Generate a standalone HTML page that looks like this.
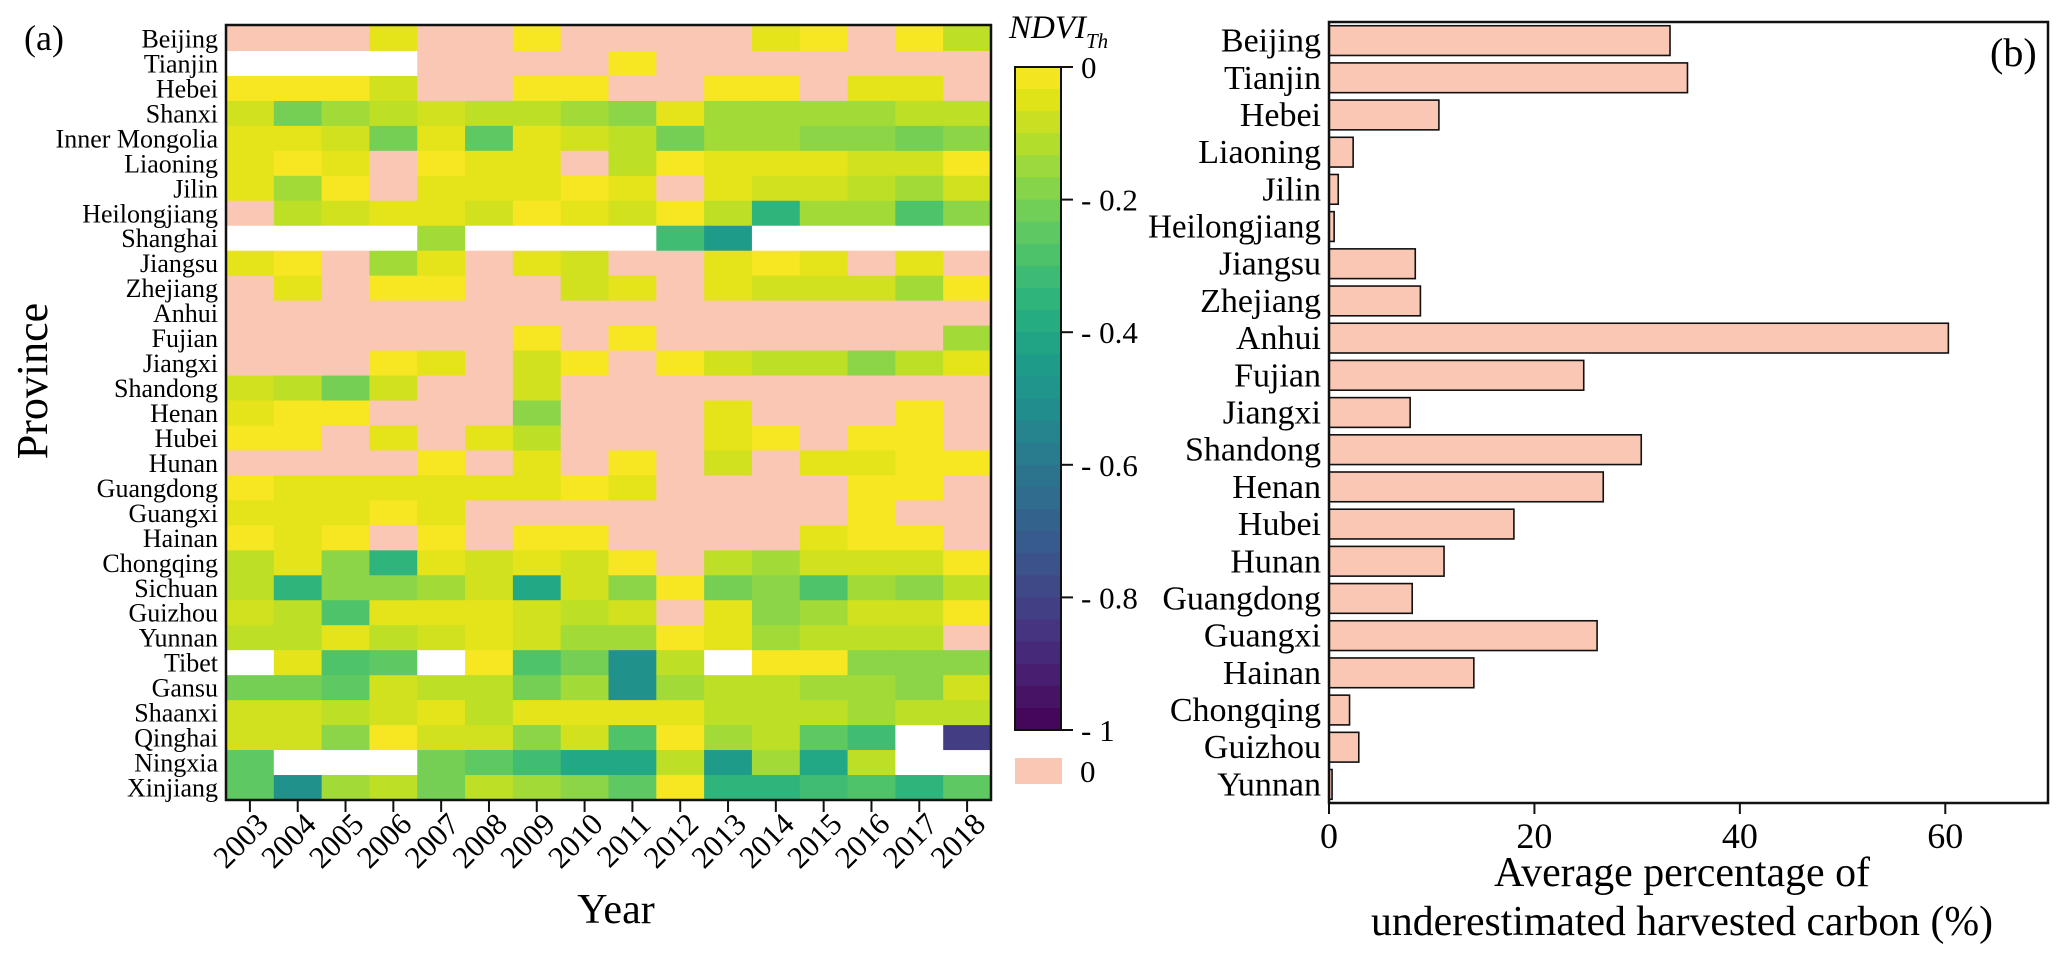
<!DOCTYPE html>
<html><head><meta charset="utf-8">
<style>
html,body{margin:0;padding:0;background:#fff;}
svg{display:block;font-family:"Liberation Serif",serif;}
</style></head>
<body>
<svg id="fig" width="2067" height="963" viewBox="0 0 2067 963" xmlns="http://www.w3.org/2000/svg">
  <rect width="2067" height="963" fill="#fff"/>
  <g id="heat"></g>
  <g id="cbar"></g>
  <g id="bars"></g>
</svg>
<script>
// ---------- heatmap data ----------
const provinces = ["Beijing","Tianjin","Hebei","Shanxi","Inner Mongolia","Liaoning","Jilin","Heilongjiang","Shanghai","Jiangsu","Zhejiang","Anhui","Fujian","Jiangxi","Shandong","Henan","Hubei","Hunan","Guangdong","Guangxi","Hainan","Chongqing","Sichuan","Guizhou","Yunnan","Tibet","Gansu","Shaanxi","Qinghai","Ningxia","Xinjiang"];
const years = ["2003","2004","2005","2006","2007","2008","2009","2010","2011","2012","2013","2014","2015","2016","2017","2018"];
// value codes (P = 0, W = no data)
const codeValues = {P:0,Y:-0.01,y:-0.04,l:-0.07,L:-0.1,g:-0.14,G:-0.175,m:-0.21,M:-0.25,n:-0.28,t:-0.31,T:-0.35,s:-0.4,S:-0.45,c:-0.5,v:-0.82,W:null};
const ndviRows = [
"PPPyPPYPPPPyYPYL",
"WWWWPPPPYPPPPPPP",
"YYYlPPYYPPYYPyyP",
"lmgLlLLgGyggggLL",
"yylmyMylLmggGGmG",
"yYyPYyyPLYyyyllY",
"ygYPyyyYyPyllLgl",
"PLlyylYylYLTggnG",
"WWWWgWWWWtSWWWWW",
"yYPgyPylPPyYyPyP",
"PyPYYPPlyPylllgY",
"PPPPPPPPPPPPPPPP",
"PPPPPPYPYPPPPPPg",
"PPPYyPlYPYlLLGLy",
"lLmlPPlPPPPPPPPP",
"yYYPPPGPPPyPPPYP",
"YYPyPyLPPPyYPYYP",
"PPPPYPyPYPlPyyYY",
"YyyyyyyYyPPPPYYP",
"yyyYyPPPPPPPPYPP",
"YyYPYPYYPPPPyYYP",
"LyGTylylYPLglllY",
"LTGGglslGYmGngGL",
"lLnyyylLlPyGgllY",
"LLyLlylggYygLLLP",
"WynMWYnmcLWYYGGG",
"mmMlLLmgcgLLggGl",
"llLlyLyyyyLLLgLL",
"llGYllGlnYgLMtWv",
"MWWWmMtssLSgsLWW",
"McgLmLgGMYTTtnTM"
];
// ---------- bar chart data ----------
const barProvinces = ["Beijing","Tianjin","Hebei","Liaoning","Jilin","Heilongjiang","Jiangsu","Zhejiang","Anhui","Fujian","Jiangxi","Shandong","Henan","Hubei","Hunan","Guangdong","Guangxi","Hainan","Chongqing","Guizhou","Yunnan"];
const barValues = [33.2,34.9,10.7,2.35,0.9,0.5,8.4,8.9,60.3,24.8,7.9,30.4,26.7,18.0,11.2,8.1,26.1,14.1,2.0,2.9,0.3];
const xTicks = [0,20,40,60];
const cbarTicks = [0,-0.2,-0.4,-0.6,-0.8,-1];
const cbarTickLabels = ["0","- 0.2","- 0.4","- 0.6","- 0.8","- 1"];

const NS="http://www.w3.org/2000/svg";
function mk(tag, attrs, parent){const e=document.createElementNS(NS,tag);for(const k in attrs)e.setAttribute(k,attrs[k]);parent.appendChild(e);return e;}
const VIR=["#440154","#471365","#482475","#463480","#414487","#3b528b","#355f8d","#2f6c8e","#2a788e","#25848e","#21918c","#1e9c89","#22a884","#2fb47c","#44bf70","#5ec962","#7ad151","#9bd93c","#bddf26","#dfe318","#fde725"];
function hx(c){return [parseInt(c.substr(1,2),16),parseInt(c.substr(3,2),16),parseInt(c.substr(5,2),16)];}
function viridis(t){t=Math.max(0,Math.min(1,t));const f=t*20,i=Math.min(19,Math.floor(f)),r=f-i;const a=hx(VIR[i]),b=hx(VIR[i+1]);return "rgb("+a.map((v,k)=>Math.round(v+(b[k]-v)*r)).join(",")+")";}
const PINK="#f9c7b3";
function cellColor(v){if(v===null)return "#ffffff";if(v===0)return PINK;return viridis(1+v);}

// ---------- heatmap ----------
const H=document.getElementById('heat');
const hx0=226,hy0=26,hx1=991,hy1=800;
const cw=(hx1-hx0)/years.length,ch=(hy1-hy0)/provinces.length;
const colX=i=>hx0+i*cw, rowY=j=>hy0+j*ch;
for(let j=0;j<provinces.length;j++){
  for(let i=0;i<years.length;i++){
    const v=codeValues[ndviRows[j][i]];
    const r=mk('rect',{x:colX(i).toFixed(2),y:rowY(j).toFixed(2),width:(cw+0.6).toFixed(2),height:(ch+0.6).toFixed(2),fill:cellColor(v)},H);
    
    
  }
  const t=mk('text',{x:218,y:(rowY(j)+ch/2+9).toFixed(1),'text-anchor':'end','font-size':26},H);
  t.textContent=provinces[j];
  
  
}
const hb=mk('rect',{x:hx0,y:hy0-1,width:hx1-hx0,height:hy1-hy0+1,fill:'none',stroke:'#111','stroke-width':2.5},H);


for(let i=0;i<years.length;i++){
  const cx=colX(i)+cw/2;
  mk('line',{x1:cx,y1:hy1,x2:cx,y2:hy1+12,stroke:'#111','stroke-width':2},H);
  const t=mk('text',{x:0,y:0,'text-anchor':'end','font-size':31,transform:'translate('+(cx+20).toFixed(1)+','+(hy1+26)+') rotate(-45)'},H);
  t.textContent=years[i];
  
  
}
let e;
e=mk('text',{x:616,y:923,'text-anchor':'middle','font-size':42},H);e.textContent='Year';


e=mk('text',{x:0,y:0,'text-anchor':'middle','font-size':44,transform:'translate(47,381) rotate(-90)'},H);e.textContent='Province';


e=mk('text',{x:24,y:50,'font-size':36},H);e.textContent='(a)';



// ---------- colorbar ----------
const C=document.getElementById('cbar');
const cbx=1015,cbw=46,cby0=67,cby1=730;
const cbY=v=>cby0+(-v)*(cby1-cby0);
const nSteps=30;
for(let k=0;k<nSteps;k++){
  const vTop=-k/nSteps,vMid=-(k+0.5)/nSteps;
  mk('rect',{x:cbx,y:cbY(vTop).toFixed(2),width:cbw,height:((cby1-cby0)/nSteps+0.6).toFixed(2),fill:viridis(1+vMid)},C);
}
mk('rect',{x:cbx,y:cby0,width:cbw,height:cby1-cby0,fill:'none',stroke:'#111','stroke-width':2},C);
for(let k=0;k<cbarTicks.length;k++){
  const y=cbY(cbarTicks[k]);
  mk('line',{x1:cbx+cbw,y1:y,x2:cbx+cbw+12,y2:y,stroke:'#111','stroke-width':2},C);
  const t=mk('text',{x:cbx+cbw+20,y:(y+11).toFixed(1),'font-size':31},C);
  t.textContent=cbarTickLabels[k];
  
  
}
e=mk('text',{x:1009,y:38,'font-size':33,'font-style':'italic'},C);
e.innerHTML='NDVI<tspan font-size="21" dy="10">Th</tspan>';


e=mk('rect',{x:1015,y:758,width:47,height:26,fill:PINK},C);


e=mk('text',{x:1080,y:782,'font-size':31},C);e.textContent='0';



// ---------- bar chart ----------
const B=document.getElementById('bars');
const bx0=1329,bx1=2048,by0=22,by1=803,xMax=70;
const xs=v=>bx0+v/xMax*(bx1-bx0);
const band=(by1-by0)/barProvinces.length;
const ys=i=>by0+i*band;
for(let i=0;i<barProvinces.length;i++){
  const r=mk('rect',{x:xs(0),y:(ys(i)+band*0.1).toFixed(2),width:(xs(barValues[i])-xs(0)).toFixed(2),height:(band*0.8).toFixed(2),fill:PINK,stroke:'#111','stroke-width':1.6},B);
  
  
  const t=mk('text',{x:1321,y:(ys(i)+band/2+11).toFixed(1),'text-anchor':'end','font-size':34},B);
  t.textContent=barProvinces[i];
  
  
  if(barProvinces[i]==='Heilongjiang'){t.setAttribute('textLength','173');t.setAttribute('lengthAdjust','spacingAndGlyphs');}
}
e=mk('rect',{x:bx0,y:by0,width:bx1-bx0,height:by1-by0,fill:'none',stroke:'#111','stroke-width':2.5},B);


for(const v of xTicks){
  const x=xs(v);
  mk('line',{x1:x,y1:by1,x2:x,y2:by1+11,stroke:'#111','stroke-width':2},B);
  const t=mk('text',{x:x,y:848,'text-anchor':'middle','font-size':36},B);
  t.textContent=String(v);
  
  
}
e=mk('text',{x:1682,y:886,'text-anchor':'middle','font-size':42,textLength:376,lengthAdjust:'spacingAndGlyphs'},B);e.textContent='Average percentage of';


e=mk('text',{x:1682,y:935,'text-anchor':'middle','font-size':42,textLength:622,lengthAdjust:'spacingAndGlyphs'},B);e.textContent='underestimated harvested carbon (%)';


e=mk('text',{x:1990,y:66,'font-size':40},B);e.textContent='(b)';


</script>
</body></html>
